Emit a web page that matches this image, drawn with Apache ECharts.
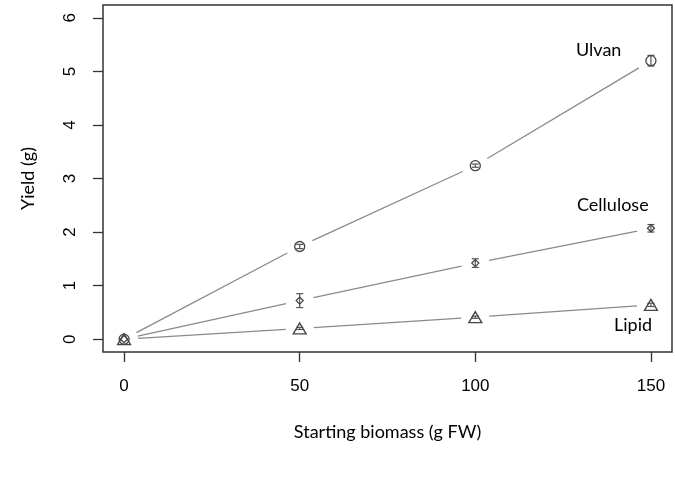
<!DOCTYPE html>
<html>
<head>
<meta charset="utf-8">
<script src="https://cdn.jsdelivr.net/npm/echarts@6/dist/echarts.min.js"></script>
<style>html,body{margin:0;padding:0;background:#fff;}#c{width:675px;height:482px;}</style>
</head>
<body>
<div id="c"></div>
<script>
var biomass = [0, 50, 100, 150];
var ulvan = [0, 1.73, 3.24, 5.2];
var ulvanErr = [0, 0.04, 0.03, 0.1];
var cellulose = [0, 0.72, 1.42, 2.07];
var celluloseErr = [0, 0.13, 0.08, 0.07];
var lipid = [0, 0.2, 0.41, 0.64];
var lipidErr = [0, 0.02, 0.02, 0.03];
var xTicks = [0, 50, 100, 150];
var yTicks = [0, 1, 2, 3, 4, 5, 6];

function segs(ys) {
  var out = [];
  for (var i = 0; i < biomass.length - 1; i++) out.push([biomass[i], ys[i], biomass[i + 1], ys[i + 1]]);
  return out;
}
function errs(ys, es) {
  var out = [];
  for (var i = 0; i < biomass.length; i++) if (es[i] > 0) out.push([biomass[i], ys[i] - es[i], ys[i] + es[i]]);
  return out;
}
function pts(ys) { return biomass.map(function (x, i) { return [x, ys[i]]; }); }

var GAP = 14;
function lineRender(params, api) {
  var p0 = api.coord([api.value(0), api.value(1)]);
  var p1 = api.coord([api.value(2), api.value(3)]);
  var dx = p1[0] - p0[0], dy = p1[1] - p0[1];
  var L = Math.sqrt(dx * dx + dy * dy);
  var ux = dx / L, uy = dy / L;
  return {
    type: 'line',
    shape: { x1: p0[0] + ux * GAP, y1: p0[1] + uy * GAP, x2: p1[0] - ux * GAP, y2: p1[1] - uy * GAP },
    style: { stroke: '#8a8a8a', lineWidth: 1.3 }
  };
}
function errRender(params, api) {
  var lo = api.coord([api.value(0), api.value(1)]);
  var hi = api.coord([api.value(0), api.value(2)]);
  var w = 3.5;
  var st = { stroke: '#555', lineWidth: 1.2 };
  return {
    type: 'group',
    children: [
      { type: 'line', shape: { x1: lo[0], y1: lo[1], x2: hi[0], y2: hi[1] }, style: st },
      { type: 'line', shape: { x1: lo[0] - w, y1: lo[1], x2: lo[0] + w, y2: lo[1] }, style: st },
      { type: 'line', shape: { x1: hi[0] - w, y1: hi[1], x2: hi[0] + w, y2: hi[1] }, style: st }
    ]
  };
}
function lineSeries(ys) {
  return { type: 'custom', renderItem: lineRender, data: segs(ys), encode: { x: [0, 2], y: [1, 3] }, silent: true, z: 2 };
}
function errSeries(ys, es) {
  return { type: 'custom', renderItem: errRender, data: errs(ys, es), encode: { x: 0, y: [1, 2] }, silent: true, z: 3 };
}
function markSeries(ys, sym, size) {
  return {
    type: 'scatter', data: pts(ys), symbol: sym, symbolSize: size, z: 4,
    itemStyle: { color: 'rgba(255,255,255,0)', borderColor: '#444', borderWidth: 1.3, opacity: 1 }
  };
}

var titleFont = 'Lato, "Open Sans", sans-serif';
var chart = echarts.init(document.getElementById('c'), null, { renderer: 'canvas' });
chart.setOption({
  animation: false,
  backgroundColor: '#fff',
  grid: { left: 103, right: 3, top: 5, bottom: 130, show: true, borderColor: '#333', borderWidth: 1.5, backgroundColor: 'transparent' },
  xAxis: {
    type: 'value', min: -6, max: 156,
    axisLine: { show: false, onZero: false },
    splitLine: { show: false },
    axisTick: { show: true, length: 10, inside: false, customValues: xTicks, lineStyle: { color: '#333', width: 1.3 } },
    axisLabel: { customValues: xTicks, margin: 26, fontSize: 17, color: '#000', fontFamily: '"Liberation Sans", Arial, sans-serif' },
    name: 'Starting biomass (g FW)', nameLocation: 'middle', nameGap: 71,
    nameTextStyle: { fontSize: 18, color: '#000', fontFamily: titleFont }
  },
  yAxis: {
    type: 'value', min: -0.24, max: 6.24,
    axisLine: { show: false, onZero: false },
    splitLine: { show: false },
    axisTick: { show: true, length: 10, inside: false, customValues: yTicks, lineStyle: { color: '#333', width: 1.3 } },
    axisLabel: { customValues: yTicks, rotate: 90, margin: 24, fontSize: 17, color: '#000', fontFamily: '"Liberation Sans", Arial, sans-serif' },
    name: 'Yield (g)', nameLocation: 'middle', nameGap: 66, nameRotate: 90,
    nameTextStyle: { fontSize: 18, color: '#000', fontFamily: titleFont }
  },
  graphic: [
    { type: 'text', left: 576, top: 41, style: { text: 'Ulvan', fill: '#000', font: '18px ' + titleFont } },
    { type: 'text', left: 577, top: 196, style: { text: 'Cellulose', fill: '#000', font: '18px ' + titleFont } },
    { type: 'text', left: 614, top: 316, style: { text: 'Lipid', fill: '#000', font: '18px ' + titleFont } }
  ],
  series: [
    lineSeries(ulvan), lineSeries(cellulose), lineSeries(lipid),
    errSeries(ulvan, ulvanErr), errSeries(cellulose, celluloseErr), errSeries(lipid, lipidErr),
    markSeries(ulvan, 'circle', 10),
    markSeries(cellulose, 'diamond', 7),
    markSeries(lipid, 'triangle', [13, 11])
  ]
});
</script>
</body>
</html>
